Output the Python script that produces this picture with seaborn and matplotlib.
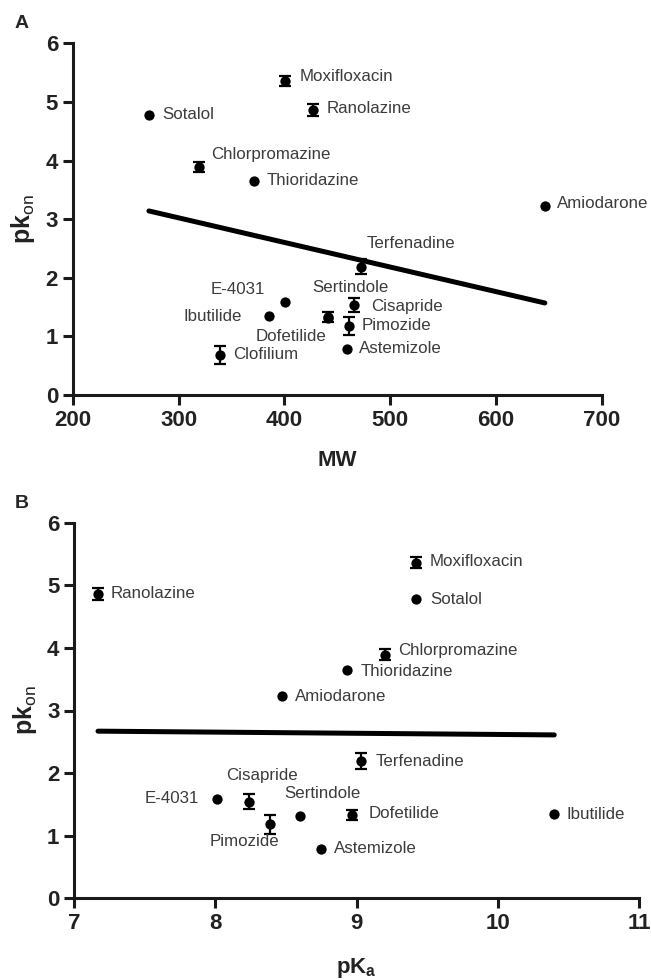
import numpy as np
import pandas as pd
import matplotlib
matplotlib.use("Agg")
import matplotlib.pyplot as plt
import seaborn as sns

# ---------------- data ----------------
drugs = ["Sotalol", "Moxifloxacin", "Ranolazine", "Chlorpromazine", "Thioridazine",
         "Amiodarone", "Terfenadine", "E-4031", "Ibutilide", "Dofetilide",
         "Sertindole", "Cisapride", "Pimozide", "Astemizole", "Clofilium"]
mw = [272, 401, 427, 319, 371, 646, 472, 401, 385, 441, 441, 466, 461, 459, 339]
pka = [9.42, 9.42, 7.17, 9.20, 8.93, 8.47, 9.03, 8.01, 10.40, 8.97, 8.60, 8.24, 8.39, 8.75, np.nan]
pkon = [4.78, 5.36, 4.86, 3.89, 3.65, 3.23, 2.19, 1.58, 1.34, 1.33, 1.32, 1.54, 1.18, 0.79, 0.68]
pkon_err = [0, 0.09, 0.10, 0.09, 0, 0, 0.13, 0, 0, 0.08, 0, 0.12, 0.15, 0, 0.15]

fit_mw = [272, 646]
fit_mw_pkon = [3.14, 1.57]
fit_pka = [7.17, 10.40]
fit_pka_pkon = [2.67, 2.61]

xticks_A = [200, 300, 400, 500, 600, 700]
xticks_B = [7, 8, 9, 10, 11]
yticks = [0, 1, 2, 3, 4, 5, 6]

# label offsets (pixels) and alignment
lab_A = {
    "Sotalol": (13, 0, "left"), "Moxifloxacin": (14, 4, "left"),
    "Ranolazine": (14, 2, "left"), "Chlorpromazine": (12, 12, "left"),
    "Thioridazine": (13, 1, "left"), "Amiodarone": (12, 2, "left"),
    "Terfenadine": (6, 23, "left"), "E-4031": (-20, 13, "right"),
    "Ibutilide": (-27, 0, "right"), "Dofetilide": (-1, -19, "right"),
    "Sertindole": (-16, 30, "left"), "Cisapride": (17, -2, "left"),
    "Pimozide": (13, 0, "left"), "Astemizole": (12, 0, "left"),
    "Clofilium": (13, 1, "left"),
}
lab_B = {
    "Sotalol": (14, 0, "left"), "Moxifloxacin": (14, 1, "left"),
    "Ranolazine": (13, 1, "left"), "Chlorpromazine": (13, 4, "left"),
    "Thioridazine": (14, -2, "left"), "Amiodarone": (13, 0, "left"),
    "Terfenadine": (15, 0, "left"), "E-4031": (-18, 1, "right"),
    "Ibutilide": (12, 0, "left"), "Dofetilide": (16, 2, "left"),
    "Sertindole": (-16, 22, "left"), "Cisapride": (13, 26, "center"),
    "Pimozide": (-26, -17, "center"), "Astemizole": (13, 0, "left"),
}

df = pd.DataFrame({"drug": drugs, "MW": mw, "pKa": pka, "pkon": pkon, "err": pkon_err})

# ---------------- style ----------------
sns.set_style("ticks")
plt.rcParams["font.family"] = ["Liberation Sans", "DejaVu Sans"]
plt.rcParams["mathtext.fontset"] = "custom"
plt.rcParams["mathtext.rm"] = "Liberation Sans"
plt.rcParams["mathtext.bf"] = "Liberation Sans:bold"

DPI = 100
fig = plt.figure(figsize=(6.51, 9.80), dpi=DPI)
W, H = 651, 980

def px_axes(l, r, t, b):
    return fig.add_axes([l / W, 1 - b / H, (r - l) / W, (b - t) / H])

axA = px_axes(72.7, 602, 43.3, 395)
axB = px_axes(74, 639, 522.7, 898.3)

def draw(ax, xcol, fitx, fity, labels, xticks, xlabel, xlabelpad):
    d = df.dropna(subset=[xcol])
    sns.lineplot(x=fitx, y=fity, ax=ax, color="black", linewidth=3.6,
                 solid_capstyle="round", zorder=2)
    e = d[d["err"] > 0]
    ax.errorbar(e[xcol], e["pkon"], yerr=e["err"], fmt="none", ecolor="black",
                elinewidth=1.6, capsize=4, capthick=1.6, zorder=3, clip_on=False)
    sns.scatterplot(data=d, x=xcol, y="pkon", ax=ax, color="black", s=55,
                    edgecolor="black", linewidth=0, zorder=4, clip_on=False)
    for _, row in d.iterrows():
        dx, dy, ha = labels[row["drug"]]
        ax.annotate(row["drug"], (row[xcol], row["pkon"]),
                    xytext=(dx * 72 / DPI, dy * 72 / DPI), textcoords="offset points",
                    ha=ha, va="center", fontsize=12.2, color="#3c3c3c")
    ax.set_xlim(xticks[0], xticks[-1])
    ax.set_ylim(0, 6)
    ax.set_xticks(xticks)
    ax.set_yticks(yticks)
    ax.set_xticklabels([str(t) for t in xticks], fontsize=16, fontweight="bold", color="#222222")
    ax.set_yticklabels([str(t) for t in yticks], fontsize=16, fontweight="bold", color="#222222")
    for s in ["top", "right"]:
        ax.spines[s].set_visible(False)
    for s in ["left", "bottom"]:
        ax.spines[s].set_linewidth(2.2)
        ax.spines[s].set_color("#1a1a1a")
    ax.tick_params(width=2.2, length=7, color="#1a1a1a", pad=3.5)
    ax.set_xlabel(xlabel, fontsize=16, fontweight="bold", color="#222222", labelpad=xlabelpad)
    ax.set_ylabel(r"$\mathbf{pk}_{\mathrm{on}}$", fontsize=18, color="#222222", labelpad=6)

draw(axA, "MW", fit_mw, fit_mw_pkon, lab_A, xticks_A, "MW", 14)
draw(axB, "pKa", fit_pka, fit_pka_pkon, lab_B, xticks_B, r"$\mathbf{pK}_{\mathbf{a}}$", 16)

fig.text(22 / W, 1 - 23 / H, "A", fontsize=14, fontweight="bold", ha="center", va="center")
fig.text(22 / W, 1 - 503 / H, "B", fontsize=14, fontweight="bold", ha="center", va="center")

fig.savefig("out.png", dpi=DPI)
